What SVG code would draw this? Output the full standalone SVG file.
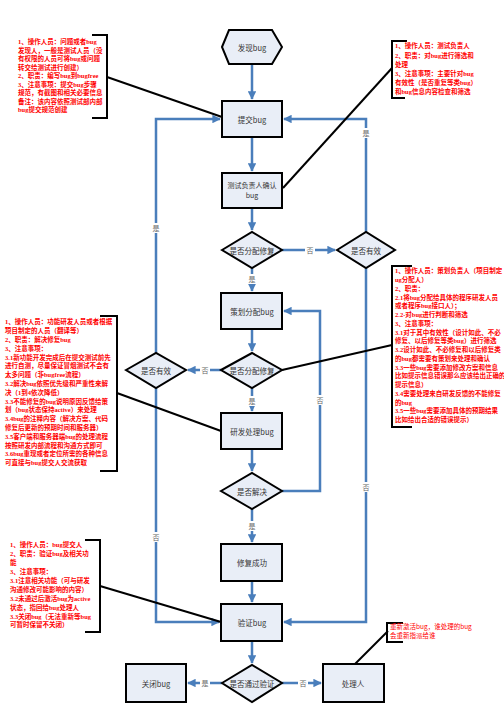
<svg xmlns="http://www.w3.org/2000/svg" width="504" height="713" viewBox="0 0 504 713">
<defs>
<marker id="arr" viewBox="0 0 10 10" refX="9" refY="5" markerWidth="3.4" markerHeight="3.4" orient="auto" markerUnits="strokeWidth">
<path d="M0,0 L10,5 L0,10 z" fill="#4A7EBB"/>
</marker>
<style>
.node{fill:#E9EEF7;stroke:#000;stroke-width:2}
.nt{font-family:"Noto Sans CJK SC","Liberation Sans",sans-serif;font-size:7.5px;fill:#333;text-anchor:middle;dominant-baseline:central}
.nt2{font-family:"Noto Sans CJK SC","Liberation Sans",sans-serif;font-size:7px;fill:#333;text-anchor:middle}
.flow{fill:none;stroke:#4A7EBB;stroke-width:2.5}
.lbl{font-family:"Noto Sans CJK SC","Liberation Sans",sans-serif;font-size:7px;fill:#666;text-anchor:middle;dominant-baseline:central}
.lbg{fill:#fff}
.ann{fill:none;stroke:#000;stroke-width:2}
.at{font-family:"Liberation Serif","Noto Sans CJK SC",serif;font-size:6.5px;fill:#F00;font-weight:bold}
.at2{font-family:"Noto Sans CJK SC","Liberation Sans",sans-serif;font-size:6.5px;fill:#F00}
</style>
</defs>
<rect width="504" height="713" fill="#fff"/>

<g id="connectors">
<path class="flow" d="M252,64 V99" marker-end="url(#arr)"/>
<path class="flow" d="M252,137 V171" marker-end="url(#arr)"/>
<path class="flow" d="M252,208 V230" marker-end="url(#arr)"/>
<path class="flow" d="M252,268 V291" marker-end="url(#arr)"/>
<path class="flow" d="M282,250 H335" marker-end="url(#arr)"/>
<path class="flow" d="M366,232 V119 H284" marker-end="url(#arr)"/>
<path class="flow" d="M366,268 V622 H284" marker-end="url(#arr)"/>
<path class="flow" d="M252,329 V351" marker-end="url(#arr)"/>
<path class="flow" d="M221,370 H188" marker-end="url(#arr)"/>
<path class="flow" d="M156,353 V119 H220" marker-end="url(#arr)"/>
<path class="flow" d="M156,388 V622 H219" marker-end="url(#arr)"/>
<path class="flow" d="M252,388 V411" marker-end="url(#arr)"/>
<path class="flow" d="M252,449 V471" marker-end="url(#arr)"/>
<path class="flow" d="M282,491 H320 V311 H284" marker-end="url(#arr)"/>
<path class="flow" d="M252,509 V542" marker-end="url(#arr)"/>
<path class="flow" d="M252,581 V602" marker-end="url(#arr)"/>
<path class="flow" d="M252,641 V663" marker-end="url(#arr)"/>
<path class="flow" d="M222,683 H188" marker-end="url(#arr)"/>
<path class="flow" d="M282,683 H321" marker-end="url(#arr)"/>

<rect class="lbg" x="305" y="245" width="10" height="10"/><text class="lbl" x="310" y="250">否</text>
<rect class="lbg" x="361" y="128" width="10" height="10"/><text class="lbl" x="366" y="133">是</text>
<rect class="lbg" x="361" y="482" width="10" height="10"/><text class="lbl" x="366" y="487">否</text>
<rect class="lbg" x="247" y="274" width="10" height="10"/><text class="lbl" x="252" y="279">是</text>
<rect class="lbg" x="200" y="365" width="10" height="10"/><text class="lbl" x="205" y="370">否</text>
<rect class="lbg" x="151" y="223" width="10" height="10"/><text class="lbl" x="156" y="228">是</text>
<rect class="lbg" x="151" y="532" width="10" height="10"/><text class="lbl" x="156" y="537">否</text>
<rect class="lbg" x="247" y="396" width="10" height="10"/><text class="lbl" x="252" y="401">是</text>
<rect class="lbg" x="315" y="395" width="10" height="10"/><text class="lbl" x="320" y="400">否</text>
<rect class="lbg" x="247" y="521" width="10" height="10"/><text class="lbl" x="252" y="526">是</text>
<rect class="lbg" x="200" y="678" width="10" height="10"/><text class="lbl" x="205" y="683">是</text>
<rect class="lbg" x="298" y="678" width="10" height="10"/><text class="lbl" x="303" y="683">否</text>

<path class="ann" d="M107,77 L222,117"/>
<path class="ann" d="M392,68 L283,188"/>
<path class="ann" d="M282,370 L392,345"/>
<path class="ann" d="M117,393 L221,431"/>
<path class="ann" d="M100,586 L221,622"/>
<path class="ann" d="M355,664 L388,631"/>
</g>

<g id="n-find"><polygon class="node" points="222,47 229,30 272,30 282,47 272,64 229,64"/><text class="nt" x="252" y="47">发现bug</text></g>
<g id="n-submit"><rect class="node" x="222" y="101" width="60" height="36"/><text class="nt" x="252" y="119">提交bug</text></g>
<g id="n-confirm"><rect class="node" x="222" y="173" width="60" height="35"/><text class="nt2" x="252" y="188">测试负责人确认</text><text class="nt2" x="252" y="198">bug</text></g>
<g id="n-assign1"><polygon class="node" points="222,250 252,232 282,250 252,268"/><text class="nt" x="252" y="250">是否分配修复</text></g>
<g id="n-validR"><polygon class="node" points="337,250 366,232 395,250 366,268"/><text class="nt" x="366" y="250">是否有效</text></g>
<g id="n-plan"><rect class="node" x="221" y="293" width="61" height="36"/><text class="nt" x="252" y="311">策划分配bug</text></g>
<g id="n-assign2"><polygon class="node" points="221,370 252,353 282,370 252,388"/><text class="nt" x="252" y="370">是否分配修复</text></g>
<g id="n-validL"><polygon class="node" points="126,370 156,353 186,370 156,388"/><text class="nt" x="156" y="370">是否有效</text></g>
<g id="n-dev"><rect class="node" x="221" y="413" width="61" height="36"/><text class="nt" x="252" y="431">研发处理bug</text></g>
<g id="n-solved"><polygon class="node" points="221,491 252,473 282,491 252,509"/><text class="nt" x="252" y="491">是否解决</text></g>
<g id="n-fixed"><rect class="node" x="221" y="544" width="61" height="37"/><text class="nt" x="252" y="562">修复成功</text></g>
<g id="n-verify"><rect class="node" x="221" y="604" width="61" height="37"/><text class="nt" x="252" y="622">验证bug</text></g>
<g id="n-pass"><polygon class="node" points="222,683 252,665 282,683 252,702"/><text class="nt" x="252" y="683">是否通过验证</text></g>
<g id="n-close"><rect class="node" x="126" y="664" width="60" height="38"/><text class="nt" x="156" y="683">关闭bug</text></g>
<g id="n-handler"><rect class="node" x="323" y="664" width="61" height="38"/><text class="nt" x="353" y="683">处理人</text></g>

<g id="note-submit">
<path class="ann" d="M92,35 H107 V118 H92"/>
<text class="at">
<tspan x="18" y="44.3">1、操作人员：问题或者bug</tspan>
<tspan x="18" y="52.8">发现人，一般是测试人员（没</tspan>
<tspan x="18" y="61.3">有权限的人员可将bug或问题</tspan>
<tspan x="18" y="69.8">转交给测试进行创建）</tspan>
<tspan x="18" y="78.3">2、职责：编写bug到bugfree</tspan>
<tspan x="18" y="86.8">3、注意事项：提交bug步骤</tspan>
<tspan x="18" y="95.3">规范，有截图和相关必要信息</tspan>
<tspan x="18" y="103.8">备注：该内容依照测试部内部</tspan>
<tspan x="18" y="112.3">bug提交规范创建</tspan>
</text>
</g>

<g id="note-confirm">
<path class="ann" d="M407,41 H392 V98 H405"/>
<text class="at">
<tspan x="395" y="48.3">1、操作人员：测试负责人</tspan>
<tspan x="395" y="57.5">2、职责：对bug进行筛选和</tspan>
<tspan x="395" y="66.7">处理</tspan>
<tspan x="395" y="75.9">3、注意事项：主要针对bug</tspan>
<tspan x="395" y="85.1">有效性（是否重复等类bug）</tspan>
<tspan x="395" y="94.3">和bug信息内容检查和筛选</tspan>
</text>
</g>

<g id="note-plan">
<path class="ann" d="M412,266 H392 V427 H412"/>
<text class="at">
<tspan x="395" y="273.3">1、操作人员：策划负责人（项目制定</tspan>
<tspan x="395" y="282.05">ug分配人）</tspan>
<tspan x="395" y="290.8">2、职责：</tspan>
<tspan x="395" y="299.55">2.1将bug分配给具体的程序研发人员</tspan>
<tspan x="395" y="308.3">或者程序bug接口人）；</tspan>
<tspan x="395" y="317.05">2.2-对bug进行判断和筛选</tspan>
<tspan x="395" y="325.8">3、注意事项：</tspan>
<tspan x="395" y="334.55">3.1对于其中有效性（设计如此、不必</tspan>
<tspan x="395" y="343.3">修复、以后修复等类bug）进行筛选</tspan>
<tspan x="395" y="352.05">3.2设计如此、不必修复和以后修复类</tspan>
<tspan x="395" y="360.8">的bug都需要有策划来处理和确认</tspan>
<tspan x="395" y="369.55">3.3一些bug需要添加修改方案和信息</tspan>
<tspan x="395" y="378.3">比如提示信息错误那么应该给出正确的</tspan>
<tspan x="395" y="387.05">提示信息）</tspan>
<tspan x="395" y="395.8">3.4需要处理来自研发反馈的不能修复</tspan>
<tspan x="395" y="404.55">的bug</tspan>
<tspan x="395" y="413.3">3.5一些bug需要添加具体的预期结果</tspan>
<tspan x="395" y="422.05">比如给出合适的错误提示）</tspan>
</text>
</g>

<g id="note-dev">
<path class="ann" d="M100,316 H117 V471 H100"/>
<text class="at">
<tspan x="5" y="324.3">1、操作人员：功能研发人员或者根据</tspan>
<tspan x="5" y="333.1">项目制定的人员（翻译等）</tspan>
<tspan x="5" y="341.9">2、职责：解决修复bug</tspan>
<tspan x="5" y="350.7">3、注意事项：</tspan>
<tspan x="5" y="359.5">3.1新功能开发完成后在提交测试前先</tspan>
<tspan x="5" y="368.3">进行自测，尽量保证冒烟测试不会有</tspan>
<tspan x="5" y="377.1">太多问题（非bugfree流程）</tspan>
<tspan x="5" y="385.9">3.2解决bug依照优先级和严重性来解</tspan>
<tspan x="5" y="394.7">决（1到4依次降低）</tspan>
<tspan x="5" y="403.5">3.3不能修复的bug说明原因反馈给策</tspan>
<tspan x="5" y="412.3">划（bug状态保持active）来处理</tspan>
<tspan x="5" y="421.1">3.4bug的注释内容（解决方案、代码</tspan>
<tspan x="5" y="429.9">修复后更新的预期时间和服务器）</tspan>
<tspan x="5" y="438.7">3.5客户端和服务器端bug的处理流程</tspan>
<tspan x="5" y="447.5">按照研发内部流程和沟通方式即可</tspan>
<tspan x="5" y="456.3">3.6bug重现或者定位所需的各种信息</tspan>
<tspan x="5" y="465.1">可直接与bug提交人交流获取</tspan>
</text>
</g>

<g id="note-verify">
<path class="ann" d="M85,540 H100 V632 H85"/>
<text class="at">
<tspan x="10" y="547.3">1、操作人员：bug提交人</tspan>
<tspan x="10" y="556.2">2、职责：验证bug及相关功</tspan>
<tspan x="10" y="565.1">能</tspan>
<tspan x="10" y="574">3、注意事项：</tspan>
<tspan x="10" y="582.9">3.1注意相关功能（可与研发</tspan>
<tspan x="10" y="591.8">沟通修改可能影响的内容）</tspan>
<tspan x="10" y="600.7">3.2未通过后激活bug为active</tspan>
<tspan x="10" y="609.6">状态，指回给bug处理人</tspan>
<tspan x="10" y="618.5">3.3关闭bug（无法重新等bug</tspan>
<tspan x="10" y="627.4">可暂时保留不关闭）</tspan>
</text>
</g>

<g id="note-handler">
<path class="ann" d="M403,623 H387 V642 H403"/>
<text class="at2">
<tspan x="390" y="629">重新激活bug，谁处理的bug</tspan>
<tspan x="390" y="638">会重新指派给谁</tspan>
</text>
</g>
</svg>
